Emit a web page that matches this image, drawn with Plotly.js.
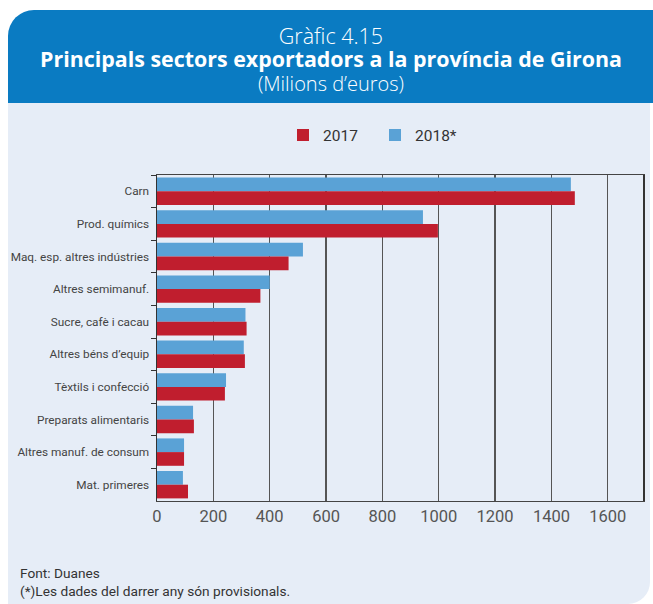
<!DOCTYPE html>
<html>
<head>
<meta charset="utf-8">
<script src="https://cdn.plot.ly/plotly-3.0.1.min.js"></script>
<style>
  html, body { margin: 0; padding: 0; background: #ffffff; }
  #wrap { position: relative; width: 653px; height: 604px; overflow: hidden; }
  #hdr { position: absolute; left: 8px; top: 10px; width: 645px; height: 93px; background: #0a7bc2; border-top-left-radius: 26px; }
  #panel { position: absolute; left: 8px; top: 103px; width: 642px; height: 501px; background: #e6edf7; border-bottom-right-radius: 22px; }
  #chart { position: absolute; left: 0; top: 0; width: 653px; height: 604px; }
</style>
</head>
<body>
<div id="wrap">
  <div id="hdr"></div>
  <div id="panel"></div>
  <div id="chart"></div>
</div>
<script>
const categories = ["Carn", "Prod. químics", "Maq. esp. altres indústries", "Altres semimanuf.",
  "Sucre, cafè i cacau", "Altres béns d’equip", "Tèxtils i confecció", "Preparats alimentaris",
  "Altres manuf. de consum", "Mat. primeres"];
const values2017 = [1483, 997, 467, 367, 318, 312, 241, 131, 96, 110];
const values2018 = [1469, 944, 518, 400, 314, 308, 245, 128, 96, 92];
const seriesNames = ["2017", "2018*"];
const xTicks = [0, 200, 400, 600, 800, 1000, 1200, 1400, 1600];

const W = 653, H = 604;
const L = 157, R = 643, T = 174.7, B = 500.7;
const px = x => (x - L) / (R - L);
const py = y => (B - y) / (B - T);
const BODY = "Roboto, 'Liberation Sans', Arial, sans-serif";
const HEAD = "'Open Sans', 'Liberation Sans', Arial, sans-serif";

const traces = [
  { type: "bar", orientation: "h", name: seriesNames[1], y: categories, x: values2018,
    marker: { color: "#5aa2d6" }, legendrank: 2, hoverinfo: "x+y+name" },
  { type: "bar", orientation: "h", name: seriesNames[0], y: categories, x: values2017,
    marker: { color: "#c01e2e" }, legendrank: 1, hoverinfo: "x+y+name" }
];

const ann = (text, x, y, font, opts) => Object.assign({
  text, xref: "paper", yref: "paper", x: px(x), y: py(y), showarrow: false,
  font, xanchor: "center", yanchor: "middle"
}, opts || {});

const headerText =
  "<span style='font-size:21.5px'>Gràfic 4.15</span><br>" +
  "<b style='font-size:21.4px'>Principals sectors exportadors a la província de Girona</b><br>" +
  "<span style='font-size:20px'>(Milions d’euros)</span>";

const layout = {
  width: W, height: H,
  margin: { l: L, r: W - R, t: T, b: H - B, pad: 0 },
  paper_bgcolor: "rgba(0,0,0,0)", plot_bgcolor: "rgba(0,0,0,0)",
  barmode: "group", bargap: 0.16, bargroupgap: 0,
  font: { family: BODY, color: "#444" },
  showlegend: true,
  legend: { orientation: "h", x: px(283), y: py(135), xanchor: "left", yanchor: "middle",
    font: { family: BODY, size: 15.5, color: "#333" }, bgcolor: "rgba(0,0,0,0)",
    itemwidth: 30, entrywidth: 47, entrywidthmode: "pixels", tracegroupgap: 0 },
  xaxis: { range: [0, 1725], tickvals: xTicks, ticktext: xTicks.map(String),
    showgrid: true, gridcolor: "#555", gridwidth: 1.3, zeroline: false,
    showline: true, linecolor: "#444", linewidth: 1.3, mirror: true,
    ticks: "", tickfont: { family: BODY, size: 16.5, color: "#555" }, fixedrange: true },
  yaxis: { type: "category", autorange: "reversed", showgrid: false, zeroline: false,
    showline: true, linecolor: "#333", linewidth: 1.5, mirror: true,
    ticks: "outside", tickson: "boundaries", ticklen: 5, tickcolor: "#333", ticklabelstandoff: 4,
    tickfont: { family: BODY, size: 11.8, color: "#444" }, fixedrange: true },
  annotations: [
    ann(headerText, 331, 59, { family: HEAD, size: 18, color: "#ffffff", weight: 300 }),
    ann("Font: Duanes", 18, 573, { family: BODY, size: 13.7, color: "#333" }, { xanchor: "left" }),
    ann("(*)Les dades del darrer any són provisionals.", 18, 591, { family: BODY, size: 13.7, color: "#333" }, { xanchor: "left" })
  ]
};

Plotly.newPlot("chart", traces, layout, { displayModeBar: false, staticPlot: true });
</script>
</body>
</html>
